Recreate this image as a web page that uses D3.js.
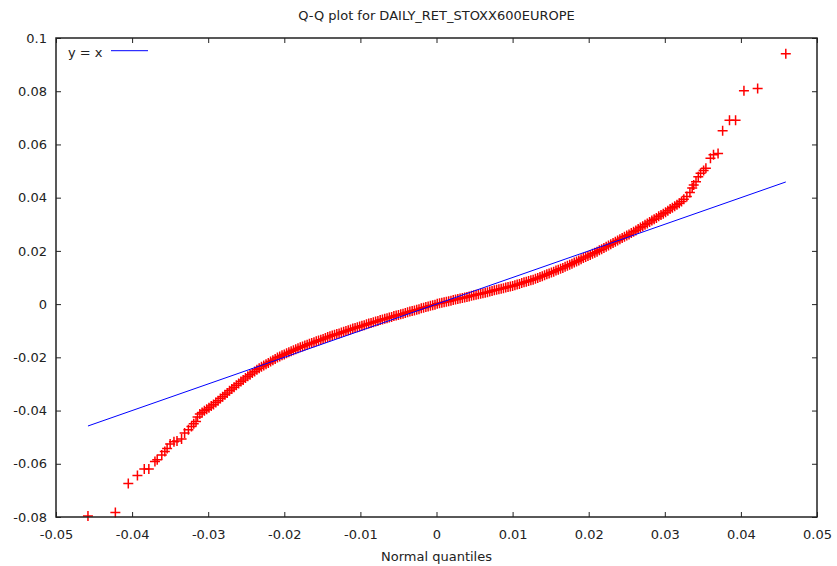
<!DOCTYPE html>
<html lang="en">
<head>
    <meta charset="utf-8">
    <title>Q-Q plot</title>
    <script src="https://d3js.org/d3.v7.min.js"></script>
    <style>
        body{margin:0;background:#fff;}
        svg{display:block;font-family:"DejaVu Sans",Verdana,sans-serif;}
    </style>
</head>

<body>
<svg width="837" height="566"></svg>
<script>
    var title = "Q-Q plot for DAILY_RET_STOXX600EUROPE";
    var xLabel = "Normal quantiles";
    var legendLabel = "y = x";

    var xTicks = [-0.05,-0.04,-0.03,-0.02,-0.01,0,0.01,0.02,0.03,0.04,0.05];
    var yTicks = [-0.08,-0.06,-0.04,-0.02,0,0.02,0.04,0.06,0.08,0.1];
    var xDomain = [-0.05,0.05];
    var yDomain = [-0.08,0.1];

    // reference line y = x, from the smallest to the largest normal quantile
    var refLine = [-0.0458,0.0459];

    // [normal quantile, sample quantile]
    var lowerTail = [
        [-0.0458,-0.0796],[-0.0422,-0.0783],[-0.0405,-0.0674],[-0.0393,-0.0644],
        [-0.0384,-0.0620],[-0.0378,-0.0620],[-0.0370,-0.0591],[-0.0367,-0.0585],
        [-0.0361,-0.0567],[-0.0357,-0.0554],[-0.0354,-0.0543],[-0.0350,-0.0526],
        [-0.0345,-0.0517],[-0.0341,-0.0514],[-0.0335,-0.0507],[-0.0331,-0.0484],
        [-0.0326,-0.0472],[-0.0322,-0.0460],[-0.0319,-0.0450],[-0.0316,-0.0441],
        [-0.0314,-0.0424]
    ];

    var body = [
        [-0.0311,-0.0413],[-0.0308,-0.0407],[-0.0305,-0.0401],[-0.0302,-0.0395],[-0.0299,-0.0389],
        [-0.0296,-0.0383],[-0.0293,-0.0377],[-0.0290,-0.0370],[-0.0287,-0.0363],[-0.0284,-0.0355],
        [-0.0281,-0.0348],[-0.0278,-0.0341],[-0.0275,-0.0334],[-0.0272,-0.0326],[-0.0269,-0.0319],
        [-0.0266,-0.0312],[-0.0263,-0.0305],[-0.0260,-0.0298],[-0.0257,-0.0291],[-0.0254,-0.0285],
        [-0.0251,-0.0278],[-0.0248,-0.0271],[-0.0245,-0.0265],[-0.0242,-0.0259],[-0.0239,-0.0253],
        [-0.0236,-0.0247],[-0.0233,-0.0241],[-0.0230,-0.0235],[-0.0227,-0.0231],[-0.0224,-0.0226],
        [-0.0221,-0.0221],[-0.0218,-0.0216],[-0.0215,-0.0211],[-0.0212,-0.0206],[-0.0209,-0.0201],
        [-0.0206,-0.0197],[-0.0203,-0.0192],[-0.0200,-0.0189],[-0.0197,-0.0185],[-0.0194,-0.0181],
        [-0.0191,-0.0177],[-0.0188,-0.0173],[-0.0185,-0.0170],[-0.0182,-0.0166],[-0.0179,-0.0162],
        [-0.0176,-0.0159],[-0.0173,-0.0156],[-0.0170,-0.0153],[-0.0167,-0.0149],[-0.0164,-0.0146],
        [-0.0161,-0.0143],[-0.0158,-0.0140],[-0.0155,-0.0137],[-0.0152,-0.0134],[-0.0149,-0.0131],
        [-0.0146,-0.0127],[-0.0143,-0.0124],[-0.0140,-0.0121],[-0.0137,-0.0118],[-0.0134,-0.0115],
        [-0.0131,-0.0112],[-0.0128,-0.0110],[-0.0125,-0.0107],[-0.0122,-0.0104],[-0.0119,-0.0101],
        [-0.0116,-0.0098],[-0.0113,-0.0095],[-0.0110,-0.0092],[-0.0107,-0.0090],[-0.0104,-0.0087],
        [-0.0101,-0.0084],[-0.0098,-0.0081],[-0.0095,-0.0079],[-0.0092,-0.0076],[-0.0089,-0.0073],
        [-0.0086,-0.0071],[-0.0083,-0.0068],[-0.0080,-0.0065],[-0.0077,-0.0063],[-0.0074,-0.0060],
        [-0.0071,-0.0058],[-0.0068,-0.0055],[-0.0065,-0.0053],[-0.0062,-0.0050],[-0.0059,-0.0048],
        [-0.0056,-0.0045],[-0.0053,-0.0043],[-0.0050,-0.0041],[-0.0047,-0.0038],[-0.0044,-0.0036],
        [-0.0041,-0.0033],[-0.0038,-0.0031],[-0.0035,-0.0028],[-0.0032,-0.0026],[-0.0029,-0.0024],
        [-0.0026,-0.0021],[-0.0023,-0.0019],[-0.0020,-0.0016],[-0.0017,-0.0014],[-0.0014,-0.0011],
        [-0.0011,-0.0009],[-0.0008,-0.0006],[-0.0005,-0.0004],[-0.0002,-0.0002],[0.0001,0.0001],
        [0.0004,0.0003],[0.0007,0.0005],[0.0010,0.0007],[0.0013,0.0009],[0.0016,0.0011],
        [0.0019,0.0013],[0.0022,0.0015],[0.0025,0.0017],[0.0028,0.0019],[0.0031,0.0021],
        [0.0034,0.0023],[0.0037,0.0025],[0.0040,0.0027],[0.0043,0.0029],[0.0046,0.0031],
        [0.0049,0.0033],[0.0052,0.0035],[0.0055,0.0037],[0.0058,0.0039],[0.0061,0.0041],
        [0.0064,0.0043],[0.0067,0.0045],[0.0070,0.0047],[0.0073,0.0049],[0.0076,0.0052],
        [0.0079,0.0054],[0.0082,0.0056],[0.0085,0.0058],[0.0088,0.0060],[0.0091,0.0062],
        [0.0094,0.0064],[0.0097,0.0066],[0.0100,0.0068],[0.0103,0.0071],[0.0106,0.0074],
        [0.0109,0.0076],[0.0112,0.0079],[0.0115,0.0082],[0.0118,0.0084],[0.0121,0.0087],
        [0.0124,0.0090],[0.0127,0.0092],[0.0130,0.0095],[0.0133,0.0098],[0.0136,0.0102],
        [0.0139,0.0105],[0.0142,0.0108],[0.0145,0.0112],[0.0148,0.0115],[0.0151,0.0119],
        [0.0154,0.0122],[0.0157,0.0126],[0.0160,0.0129],[0.0163,0.0133],[0.0166,0.0136],
        [0.0169,0.0140],[0.0172,0.0144],[0.0175,0.0148],[0.0178,0.0152],[0.0181,0.0156],
        [0.0184,0.0160],[0.0187,0.0164],[0.0190,0.0169],[0.0193,0.0173],[0.0196,0.0177],
        [0.0199,0.0181],[0.0202,0.0185],[0.0205,0.0189],[0.0208,0.0193],[0.0211,0.0197],
        [0.0214,0.0202],[0.0217,0.0206],[0.0220,0.0211],[0.0223,0.0216],[0.0226,0.0220],
        [0.0229,0.0225],[0.0232,0.0230],[0.0235,0.0234],[0.0238,0.0239],[0.0241,0.0244],
        [0.0244,0.0248],[0.0247,0.0253],[0.0250,0.0258],[0.0253,0.0262],[0.0256,0.0267],
        [0.0259,0.0272],[0.0262,0.0277],[0.0265,0.0282],[0.0268,0.0288],[0.0271,0.0293],
        [0.0274,0.0298],[0.0277,0.0303],[0.0280,0.0309],[0.0283,0.0314],[0.0286,0.0319],
        [0.0289,0.0324],[0.0292,0.0330],[0.0295,0.0335],[0.0298,0.0340],[0.0301,0.0345],
        [0.0304,0.0351],[0.0307,0.0357],[0.0310,0.0362],[0.0313,0.0368],[0.0316,0.0373],
        [0.0319,0.0379],[0.0322,0.0386],[0.0325,0.0394]
    ];

    var upperTail = [
        [0.0329,0.0404],[0.0333,0.0419],[0.0336,0.0436],[0.0338,0.0448],[0.0341,0.0460],
        [0.0344,0.0479],[0.0347,0.0492],[0.0351,0.0502],[0.0354,0.0511],[0.0360,0.0548],
        [0.0364,0.0561],[0.0370,0.0566],[0.0376,0.0651],[0.0385,0.0691],[0.0393,0.0691],
        [0.0404,0.0802],[0.0422,0.0810],[0.0459,0.0941]
    ];

    var marge = {top:38,bottom:49,left:56,right:20};
    var svg = d3.select("svg");
    var width = +svg.attr("width");
    var height = +svg.attr("height");

    var x = d3.scaleLinear().domain(xDomain).range([marge.left,width-marge.right]);
    var y = d3.scaleLinear().domain(yDomain).range([height-marge.bottom,marge.top]);

    var fmt = function(d){ return String(+d.toFixed(4)); };

    function styleAxis(g){
        g.select(".domain").remove();
        g.attr("font-family",null).attr("font-size",13);
        g.selectAll(".tick line").attr("stroke","#222");
        g.selectAll(".tick text").attr("fill","#222");
    }

    //axes, ticks pointing inwards on all four sides
    svg.append("g")
        .attr("transform","translate(0,"+y.range()[0]+")")
        .call(d3.axisBottom(x).tickValues(xTicks).tickSize(-5).tickPadding(12.5).tickFormat(fmt))
        .call(styleAxis);
    svg.append("g")
        .attr("transform","translate(0,"+y.range()[1]+")")
        .call(d3.axisTop(x).tickValues(xTicks).tickSize(-5).tickFormat(""))
        .call(styleAxis);
    svg.append("g")
        .attr("transform","translate("+x.range()[0]+",0)")
        .call(d3.axisLeft(y).tickValues(yTicks).tickSize(-5).tickPadding(9).tickFormat(fmt))
        .call(styleAxis);
    svg.append("g")
        .attr("transform","translate("+x.range()[1]+",0)")
        .call(d3.axisRight(y).tickValues(yTicks).tickSize(-5).tickFormat(""))
        .call(styleAxis);

    //Q-Q points as "+" markers
    var pts = lowerTail.concat(body,upperTail);
    svg.append("g")
        .attr("fill","none")
        .attr("stroke","#ff0000")
        .attr("stroke-width",1.5)
        .selectAll("path")
        .data(pts)
        .enter()
        .append("path")
        .attr("transform",function(d){ return "translate("+x(d[0])+","+y(d[1])+")"; })
        .attr("d","M-5,0H5M0,-5V5");

    //y = x line
    var line = d3.line()
        .x(function(d){ return x(d); })
        .y(function(d){ return y(d); });
    svg.append("path")
        .datum(refLine)
        .attr("d",line)
        .attr("fill","none")
        .attr("stroke","#0000ff")
        .attr("stroke-width",1);

    //frame
    svg.append("rect")
        .attr("x",x.range()[0])
        .attr("y",y.range()[1])
        .attr("width",x.range()[1]-x.range()[0])
        .attr("height",y.range()[0]-y.range()[1])
        .attr("fill","none")
        .attr("stroke","#222")
        .attr("stroke-width",1.5);

    //legend
    svg.append("text")
        .attr("x",68)
        .attr("y",56.5)
        .attr("font-size",13)
        .attr("fill","#222")
        .text(legendLabel);
    svg.append("line")
        .attr("x1",111).attr("x2",148)
        .attr("y1",50.7).attr("y2",50.7)
        .attr("stroke","#0000ff")
        .attr("stroke-width",1);

    //title and axis label
    var cx = (x.range()[0]+x.range()[1])/2;
    svg.append("text")
        .attr("x",cx)
        .attr("y",20)
        .attr("text-anchor","middle")
        .attr("font-size",13)
        .attr("fill","#222")
        .text(title);
    svg.append("text")
        .attr("x",cx)
        .attr("y",561)
        .attr("text-anchor","middle")
        .attr("font-size",13)
        .attr("fill","#222")
        .text(xLabel);
</script>
</body>
</html>
